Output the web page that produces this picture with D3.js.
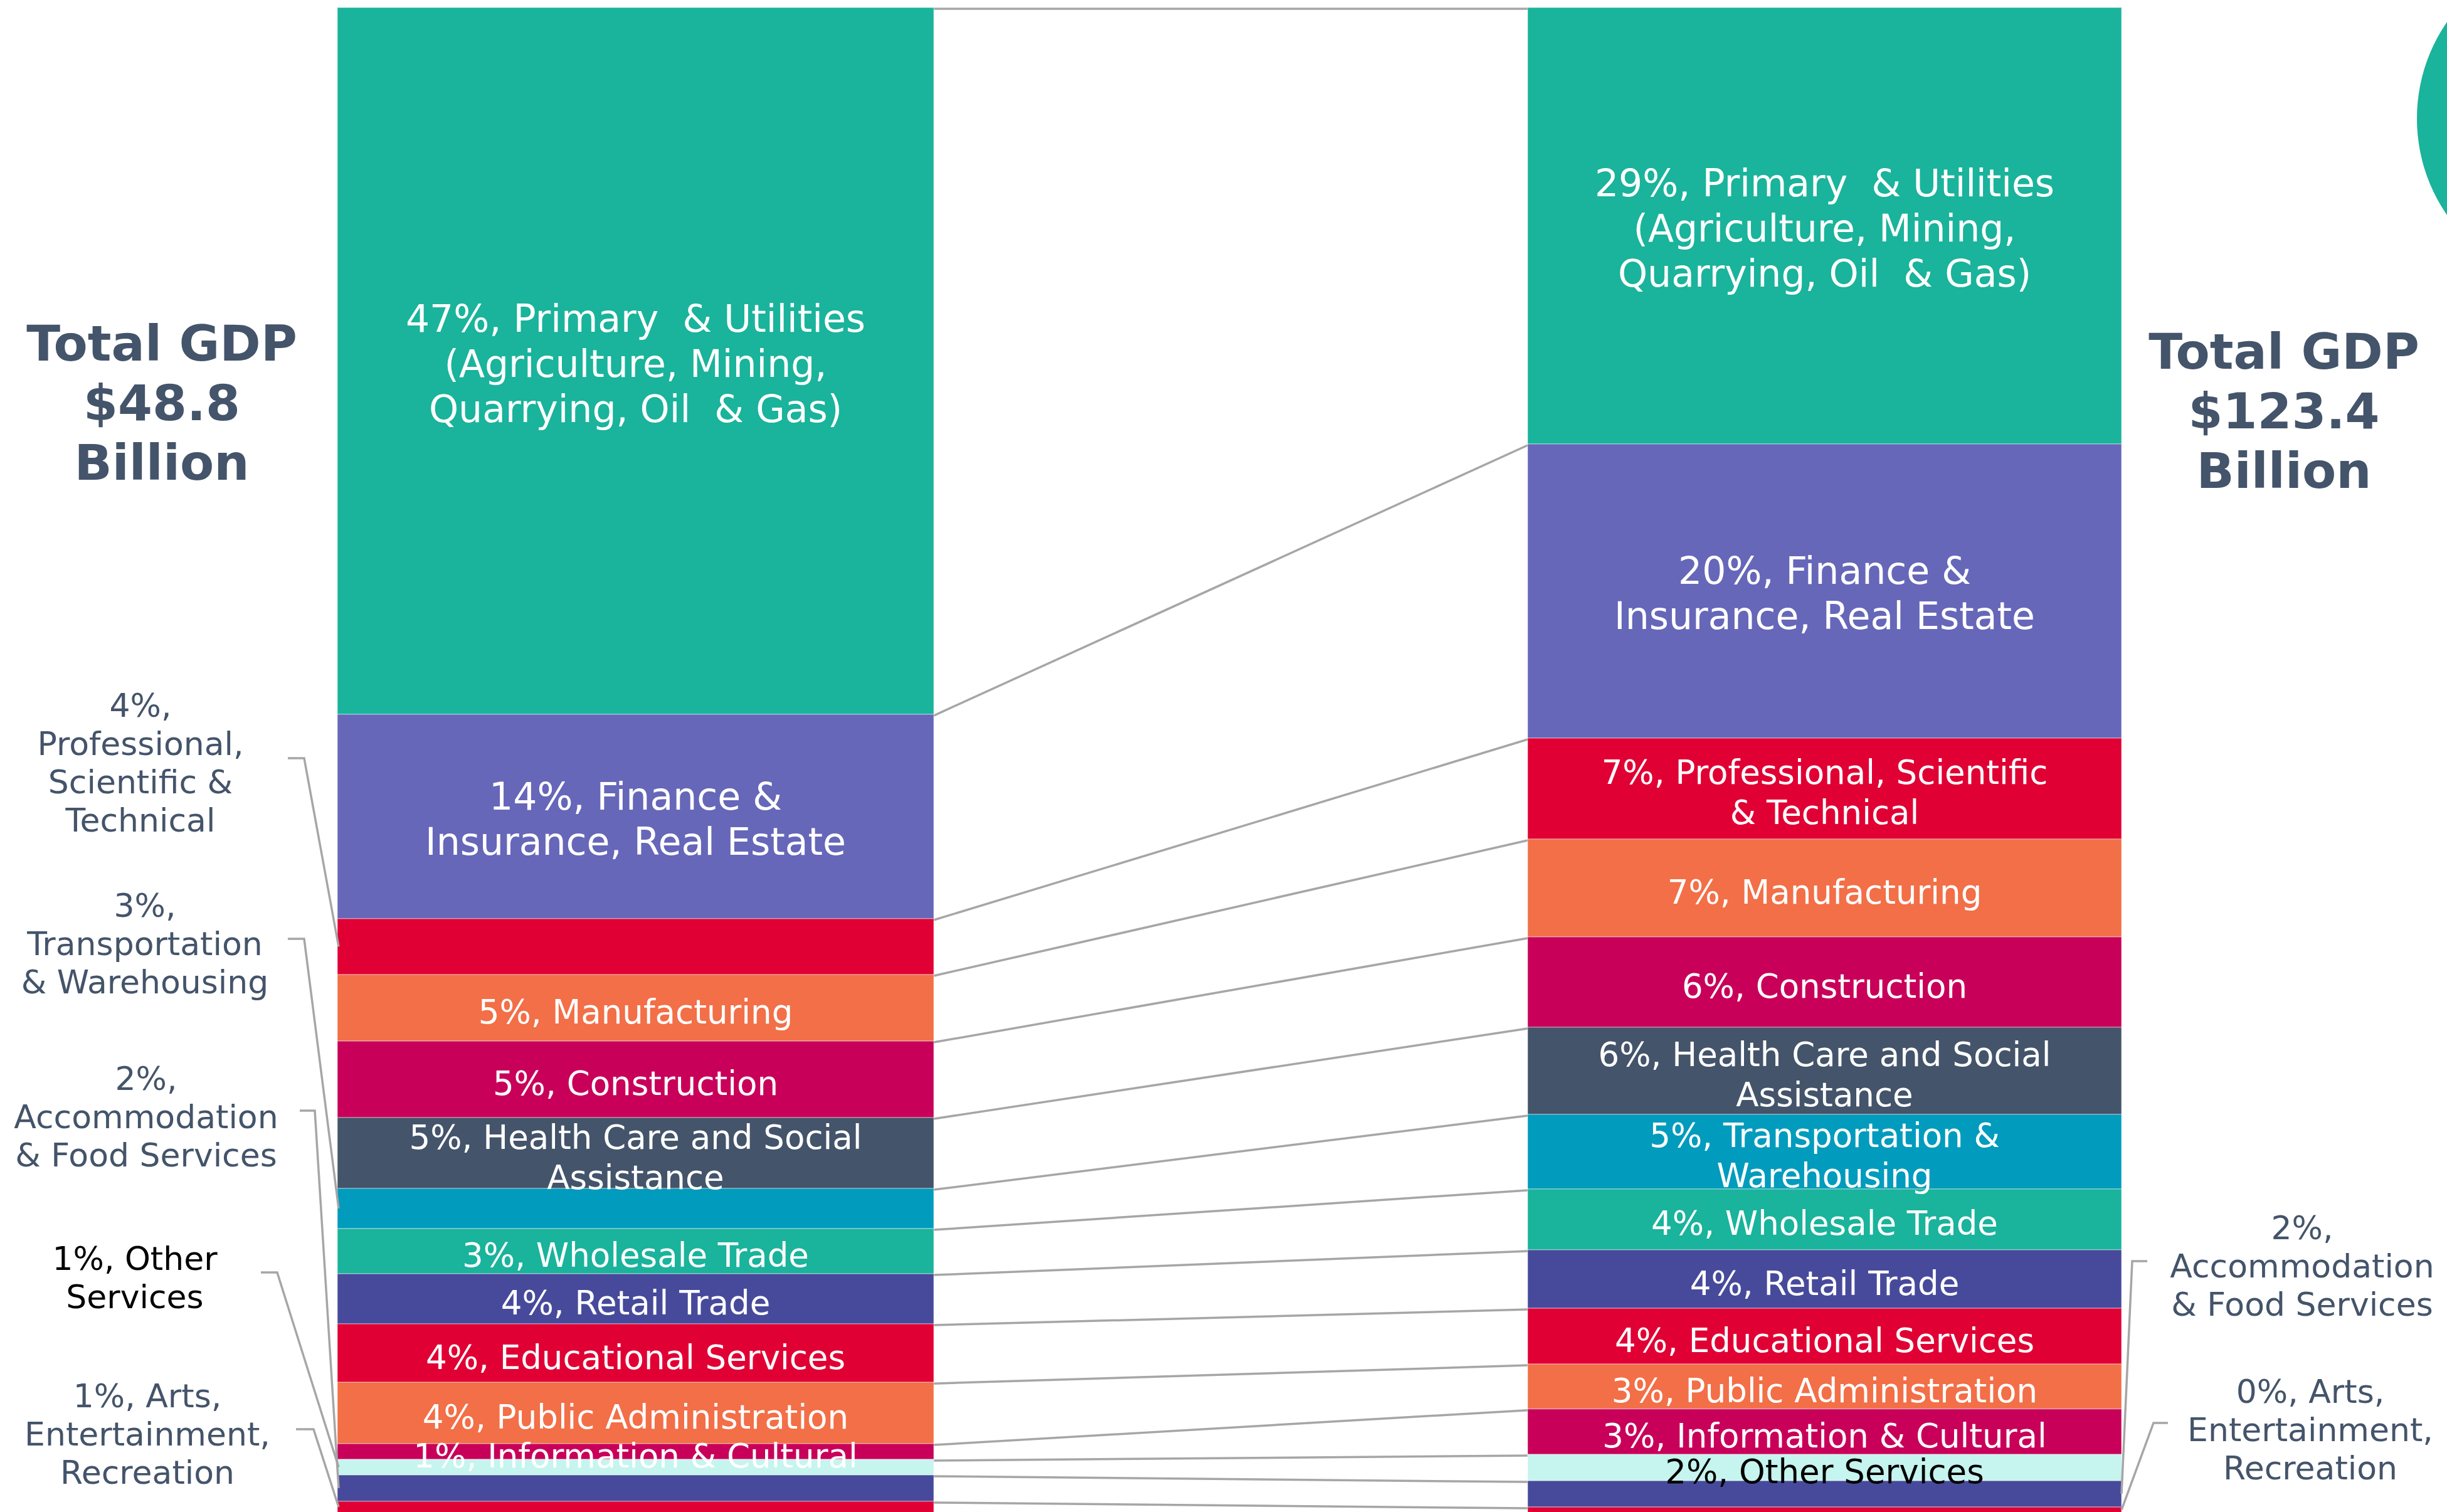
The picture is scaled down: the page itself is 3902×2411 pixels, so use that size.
<!DOCTYPE html>
<html>
<head>
<meta charset="utf-8">
<script src="https://cdn.jsdelivr.net/npm/d3@7"></script>
<style>
    body { margin: 0; background: #fff; }
    text { font-family: "DejaVu Sans", Verdana, sans-serif; white-space: pre; }
</style>
</head>
<body>
<script>
// industries, stacked top to bottom in both bars
var industries = [
    'Primary & Utilities',
    'Finance & Insurance, Real Estate',
    'Professional, Scientific & Technical',
    'Manufacturing',
    'Construction',
    'Health Care and Social Assistance',
    'Transportation & Warehousing',
    'Wholesale Trade',
    'Retail Trade',
    'Educational Services',
    'Public Administration',
    'Information & Cultural',
    'Other Services',
    'Accommodation & Food Services',
    'Arts, Entertainment, Recreation'
];

// share of total GDP (%)
var sharesBefore = [46.96, 13.58, 3.71, 4.42, 5.08, 4.71, 2.67, 3.0, 3.33, 3.88, 4.08, 1.04, 1.04, 1.75, 0.75];
var sharesAfter = [29.0, 19.54, 6.71, 6.5, 6.0, 5.79, 4.96, 4.04, 3.88, 3.71, 2.98, 3.02, 1.75, 1.75, 0.37];

var totalsText = [
    ['Total GDP', '$48.8', 'Billion'],
    ['Total GDP', '$123.4', 'Billion']
];

// labels printed inside the bars (null = shown as a callout beside the bar)
var labelsBefore = [
    ['47%, Primary  & Utilities', '(Agriculture, Mining,', 'Quarrying, Oil  & Gas)'],
    ['14%, Finance &', 'Insurance, Real Estate'],
    null,
    ['5%, Manufacturing'],
    ['5%, Construction'],
    ['5%, Health Care and Social', 'Assistance'],
    null,
    ['3%, Wholesale Trade'],
    ['4%, Retail Trade'],
    ['4%, Educational Services'],
    ['4%, Public Administration'],
    ['1%, Information & Cultural'],
    null,
    null,
    null
];
var labelsAfter = [
    ['29%, Primary  & Utilities', '(Agriculture, Mining,', 'Quarrying, Oil  & Gas)'],
    ['20%, Finance &', 'Insurance, Real Estate'],
    ['7%, Professional, Scientific', '& Technical'],
    ['7%, Manufacturing'],
    ['6%, Construction'],
    ['6%, Health Care and Social', 'Assistance'],
    ['5%, Transportation &', 'Warehousing'],
    ['4%, Wholesale Trade'],
    ['4%, Retail Trade'],
    ['4%, Educational Services'],
    ['3%, Public Administration'],
    ['3%, Information & Cultural'],
    ['2%, Other Services'],
    null,
    null
];

// callout texts beside the bars
var calloutsBefore = [
    { index: 2, lines: ['4%,', 'Professional,', 'Scientific &', 'Technical'] },
    { index: 6, lines: ['3%,', 'Transportation', '& Warehousing'] },
    { index: 13, lines: ['2%,', 'Accommodation', '& Food Services'] },
    { index: 12, lines: ['1%, Other', 'Services'] },
    { index: 14, lines: ['1%, Arts,', 'Entertainment,', 'Recreation'] }
];
var calloutsAfter = [
    { index: 13, lines: ['2%,', 'Accommodation', '& Food Services'] },
    { index: 14, lines: ['0%, Arts,', 'Entertainment,', 'Recreation'] }
];

window.onload = function () {
    var w = 3902,
        h = 2411;

    var palette = ['#1ab39b', '#6667b9', '#e00034', '#f26f47', '#c8005a', '#44546a', '#009bbd',
        '#1ab39b', '#474a9b', '#e00034', '#f26f47', '#c8005a', '#c6f4ee', '#474a9b', '#e00034'];
    var slate = '#44546a',
        grey = '#a6a6a6';

    var svg = d3.select('body')
        .append('svg')
        .attr('width', w)
        .attr('height', h)
        .style('display', 'block')
        .style('background-color', '#fff');

    // one shared scale: both bars are 100% tall
    var y = d3.scaleLinear()
        .domain([0, 100])
        .range([12, 2412]);

    var bars = [
        { x0: 538, x1: 1489, shares: sharesBefore, labels: labelsBefore },
        { x0: 2436, x1: 3383, shares: sharesAfter, labels: labelsAfter }
    ];

    // cumulative stacks
    bars.forEach(function (b) {
        var acc = 0;
        b.segs = b.shares.map(function (v, i) {
            var s = { i: i, start: acc, end: acc + v, label: b.labels[i] };
            acc += v;
            return s;
        });
    });

    // connector lines between the two bars at each boundary
    var bounds = d3.range(industries.length).map(function (i) {
        return [bars[0].segs[i].start, bars[1].segs[i].start];
    });
    svg.selectAll('.connector')
        .data(bounds)
        .enter()
        .append('line')
        .attr('class', 'connector')
        .attr('x1', bars[0].x1)
        .attr('x2', bars[1].x0)
        .attr('y1', function (d) { return y(d[0]) + 2; })
        .attr('y2', function (d) { return y(d[1]) + 2; })
        .style('stroke', grey)
        .style('stroke-width', 3.5);

    bars.forEach(function (b) {
        var g = svg.append('g').attr('class', 'bar');
        var cx = (b.x0 + b.x1) / 2;

        g.selectAll('rect')
            .data(b.segs)
            .enter()
            .append('rect')
            .attr('x', b.x0)
            .attr('width', b.x1 - b.x0)
            .attr('y', function (d) { return y(d.start); })
            .attr('height', function (d) { return y(d.end) - y(d.start); })
            .style('fill', function (d) { return palette[d.i]; })
            .style('stroke', 'rgba(255,255,255,0.35)')
            .style('stroke-width', 1.5);

        var labelled = b.segs.filter(function (d) { return d.label; });
        var labels = g.selectAll('.seglabel')
            .data(labelled)
            .enter()
            .append('text')
            .attr('class', 'seglabel')
            .attr('text-anchor', 'middle')
            .style('fill', function (d) { return d.i === 12 ? '#000' : '#fff'; })
            .style('font-size', function (d) { return d.i < 2 ? '60px' : '53px'; });

        labels.selectAll('tspan')
            .data(function (d) {
                var lh = d.i < 2 ? 72 : 64;
                var mid = (y(d.start) + y(d.end)) / 2 + 25;
                return d.label.map(function (t, k) {
                    return { t: t, y: mid + (k - (d.label.length - 1) / 2) * lh };
                });
            })
            .enter()
            .append('tspan')
            .attr('x', cx)
            .attr('y', function (d) { return d.y; })
            .text(function (d) { return d.t; });
    });

    // callouts with elbow leaders
    var leftPos = {
        2: { cx: 224, y0: 1143, ly: 1209, lx0: 459, lx1: 485 },
        6: { cx: 231, y0: 1462, ly: 1497, lx0: 459, lx1: 485 },
        13: { cx: 233, y0: 1738, ly: 1771, lx0: 478, lx1: 502 },
        12: { cx: 215, y0: 2025, ly: 2029, lx0: 416, lx1: 442 },
        14: { cx: 235, y0: 2244, ly: 2279, lx0: 472, lx1: 500 }
    };
    var rightPos = {
        13: { cx: 3671, y0: 1976, ly: 2011, lx0: 3424, lx1: 3400 },
        14: { cx: 3684, y0: 2237, ly: 2269, lx0: 3457, lx1: 3434 }
    };

    function drawCallouts(list, pos, bar, edgeX) {
        list.forEach(function (c) {
            var p = pos[c.index];
            var seg = bar.segs[c.index];
            var segMid = (y(seg.start) + y(Math.min(seg.end, 100))) / 2;
            svg.append('polyline')
                .attr('points', [[p.lx0, p.ly], [p.lx1, p.ly], [edgeX, Math.min(segMid, 2409)]].join(' '))
                .style('fill', 'none')
                .style('stroke', grey)
                .style('stroke-width', 3.5);

            var t = svg.append('text')
                .attr('text-anchor', 'middle')
                .style('font-size', '52px')
                .style('fill', c.index === 12 ? '#000' : slate);
            t.selectAll('tspan')
                .data(c.lines)
                .enter()
                .append('tspan')
                .attr('x', p.cx)
                .attr('y', function (d, k) { return p.y0 + k * 61; })
                .text(function (d) { return d; });
        });
    }
    drawCallouts(calloutsBefore, leftPos, bars[0], 540);
    drawCallouts(calloutsAfter, rightPos, bars[1], 3383);

    // totals
    var totalPos = [{ cx: 258, y0: 575 }, { cx: 3642, y0: 588 }];
    totalsText.forEach(function (lines, j) {
        var t = svg.append('text')
            .attr('text-anchor', 'middle')
            .style('font-size', '79px')
            .style('font-weight', 'bold')
            .style('fill', slate);
        t.selectAll('tspan')
            .data(lines)
            .enter()
            .append('tspan')
            .attr('x', totalPos[j].cx)
            .attr('y', function (d, k) { return totalPos[j].y0 + k * 95; })
            .text(function (d) { return d; });
    });

    // decorative disc, cut by the right edge
    svg.append('circle')
        .attr('cx', 4125)
        .attr('cy', 189)
        .attr('r', 271)
        .style('fill', '#1ab39b');
};
</script>
</body>
</html>
